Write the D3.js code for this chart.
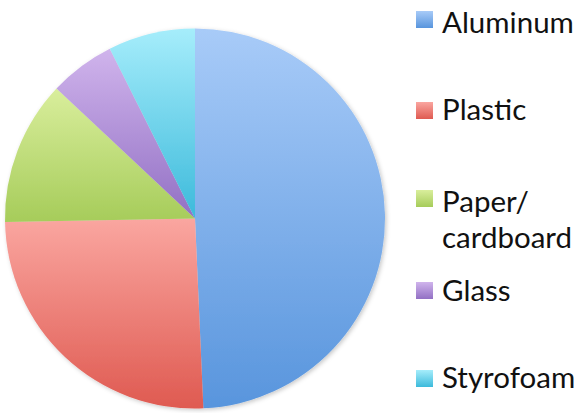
<!DOCTYPE html>
<html>
<head>
<meta charset="utf-8">
<script src="https://cdn.jsdelivr.net/npm/d3@7"></script>
<style>
  html, body { margin: 0; padding: 0; background: #fff; }
  svg { display: block; }
</style>
</head>
<body>
<svg id="chart" width="581" height="413"></svg>
<script>
// Share of recycled material by type
const categories = ["Aluminum", "Plastic", "Paper/\ncardboard", "Glass", "Styrofoam"];
const shares = [49.3, 25.4, 12.3, 5.6, 7.4];
// Gradient stops per slice: lighter top, deeper bottom
const topColors = ["#a8cbf8", "#faa6a0", "#d9ee9c", "#d0b4ec", "#a6edfb"];
const bottomColors = ["#5895dd", "#df5a51", "#a6cc5a", "#9270c4", "#3cbadb"];

const svg = d3.select("#chart");
const defs = svg.append("defs");

categories.forEach((c, i) => {
  const g = defs.append("linearGradient")
    .attr("id", "grad" + i)
    .attr("x1", 0).attr("y1", 0).attr("x2", 0).attr("y2", 1);
  g.append("stop").attr("offset", "0%").attr("stop-color", topColors[i]);
  g.append("stop").attr("offset", "100%").attr("stop-color", bottomColors[i]);
});

const shadow = defs.append("filter").attr("id", "soft")
  .attr("x", "-10%").attr("y", "-10%").attr("width", "120%").attr("height", "120%");
shadow.append("feDropShadow")
  .attr("dx", 1.5).attr("dy", 1.5).attr("stdDeviation", 2)
  .attr("flood-color", "#000").attr("flood-opacity", 0.22);

const cx = 195, cy = 218.5, r = 190;

const pie = d3.pie().sort(null).value(d => d);
const arc = d3.arc().innerRadius(0).outerRadius(r);

const pieG = svg.append("g")
  .attr("transform", `translate(${cx},${cy})`)
  .attr("filter", "url(#soft)");

pieG.selectAll("path")
  .data(pie(shares))
  .join("path")
  .attr("d", arc)
  .attr("fill", (d, i) => `url(#grad${i})`);

// Legend
const legendRows = [
  { sq: 11, lines: [33] },
  { sq: 102, lines: [120] },
  { sq: 190, lines: [212, 248] },
  { sq: 282, lines: [301] },
  { sq: 370, lines: [388] }
];

const legend = svg.append("g");
categories.forEach((c, i) => {
  const row = legendRows[i];
  legend.append("rect")
    .attr("x", 416).attr("y", row.sq)
    .attr("width", 17).attr("height", 17)
    .attr("fill", `url(#grad${i})`);
  c.split("\n").forEach((line, j) => {
    legend.append("text")
      .attr("x", 442).attr("y", row.lines[j])
      .attr("font-family", "Lato, 'Open Sans', sans-serif")
      .attr("font-size", 29.5)
      .attr("fill", "#111")
      .text(line);
  });
});
</script>
</body>
</html>
